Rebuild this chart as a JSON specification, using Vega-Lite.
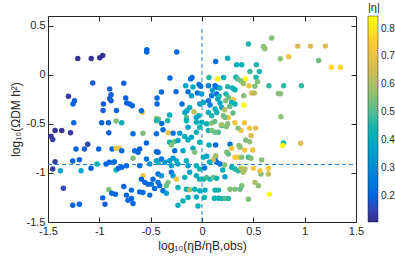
{
"$schema":"https://vega.github.io/schema/vega-lite/v6.json",
"width":308,"height":206,
"autosize":{"type":"none"},
"padding":{"left":48,"top":16,"right":39,"bottom":39},
"config":{"view":{"stroke":"#262626","strokeWidth":1},"font":"Liberation Sans",
"axis":{"grid":false,"domain":false,"tickColor":"#262626","labelColor":"#262626","titleColor":"#262626","labelFontSize":11,"titleFontSize":12,"titleFontWeight":"normal","tickSize":-5,"labelFlush":false,"labelOverlap":false},
"legend":{"labelColor":"#262626","titleColor":"#262626"}},
"datasets":{
"vline":[{"x":0,"y":-1.5,"y2":0.5}],
"hline":[{"y":-0.914,"x":-1.5,"x2":1.5}],
"pts":[
{"lx":-1.21,"ly":0.167,"eta":0.12},{"lx":-1.079,"ly":0.167,"eta":0.12},{"lx":-0.996,"ly":0.174,"eta":0.12},{"lx":-0.967,"ly":0.198,"eta":0.12},
{"lx":-1.064,"ly":-0.084,"eta":0.19},{"lx":-0.899,"ly":-0.143,"eta":0.19},{"lx":-0.886,"ly":-0.202,"eta":0.19},{"lx":-0.899,"ly":-0.24,"eta":0.19},{"lx":-0.886,"ly":-0.263,"eta":0.18},
{"lx":-1.301,"ly":-0.219,"eta":0.13},{"lx":-1.242,"ly":-0.263,"eta":0.19},{"lx":-1.256,"ly":-0.297,"eta":0.2},{"lx":-0.96,"ly":-0.297,"eta":0.19},{"lx":-0.964,"ly":-0.363,"eta":0.19},
{"lx":-0.833,"ly":-0.363,"eta":0.2},{"lx":-0.762,"ly":-0.086,"eta":0.2},{"lx":-0.743,"ly":-0.236,"eta":0.2},{"lx":-0.733,"ly":-0.287,"eta":0.2},{"lx":-0.704,"ly":-0.297,"eta":0.2},{"lx":-0.678,"ly":-0.315,"eta":0.21},
{"lx":-0.538,"ly":0.256,"eta":0.21},{"lx":-0.538,"ly":0.232,"eta":0.21},{"lx":-0.246,"ly":0.232,"eta":0.21},{"lx":-0.312,"ly":-0.031,"eta":0.21},{"lx":-0.11,"ly":-0.041,"eta":0.22},{"lx":-0.097,"ly":-0.028,"eta":0.22},
{"lx":-0.159,"ly":-0.11,"eta":0.38},{"lx":-0.088,"ly":-0.123,"eta":0.42},{"lx":-0.029,"ly":-0.099,"eta":0.22},{"lx":-0.013,"ly":-0.117,"eta":0.23},{"lx":-0.395,"ly":-0.174,"eta":0.22},{"lx":-0.253,"ly":-0.171,"eta":0.23},
{"lx":-0.136,"ly":-0.171,"eta":0.24},{"lx":-0.103,"ly":-0.212,"eta":0.36},{"lx":-0.045,"ly":-0.184,"eta":0.24},{"lx":-0.438,"ly":-0.236,"eta":0.22},{"lx":-0.438,"ly":-0.297,"eta":0.22},{"lx":-0.195,"ly":-0.297,"eta":0.22},
{"lx":-0.12,"ly":-0.332,"eta":0.42},{"lx":-0.022,"ly":-0.297,"eta":0.35},{"lx":-0.582,"ly":-0.381,"eta":0.72},{"lx":-0.59,"ly":-0.366,"eta":0.22},{"lx":-0.168,"ly":-0.383,"eta":0.42},{"lx":-0.146,"ly":-0.366,"eta":0.36},
{"lx":-0.078,"ly":-0.376,"eta":0.62},{"lx":-0.032,"ly":-0.417,"eta":0.42},{"lx":-0.055,"ly":-0.434,"eta":0.38},{"lx":-0.444,"ly":-0.445,"eta":0.55},{"lx":-0.426,"ly":-0.453,"eta":0.52},{"lx":-0.315,"ly":-0.41,"eta":0.42},
{"lx":-0.152,"ly":-0.434,"eta":0.5},{"lx":-0.334,"ly":-0.468,"eta":0.45},
{"lx":0.679,"ly":0.375,"eta":0.55},{"lx":0.598,"ly":0.29,"eta":0.56},{"lx":0.613,"ly":0.266,"eta":0.57},{"lx":0.452,"ly":0.314,"eta":0.45},{"lx":0.25,"ly":0.17,"eta":0.42},{"lx":0.133,"ly":0.136,"eta":0.22},
{"lx":0.338,"ly":0.102,"eta":0.42},{"lx":0.387,"ly":0.102,"eta":0.43},{"lx":0.467,"ly":0.034,"eta":0.48},{"lx":0.559,"ly":0.034,"eta":0.45},{"lx":0.526,"ly":-0.025,"eta":0.45},{"lx":0.542,"ly":-0.069,"eta":0.55},
{"lx":0.652,"ly":-0.11,"eta":0.47},{"lx":0.744,"ly":-0.189,"eta":0.55},{"lx":0.153,"ly":-0.041,"eta":0.84},{"lx":0.426,"ly":-0.041,"eta":0.84},{"lx":0.406,"ly":-0.307,"eta":0.84},{"lx":0.068,"ly":-0.028,"eta":0.45},
{"lx":0.211,"ly":-0.028,"eta":0.42},{"lx":0.331,"ly":-0.025,"eta":0.43},{"lx":0.348,"ly":-0.041,"eta":0.5},{"lx":0.377,"ly":-0.061,"eta":0.55},{"lx":0.403,"ly":-0.089,"eta":0.58},{"lx":0.458,"ly":-0.11,"eta":0.72},
{"lx":0.484,"ly":-0.184,"eta":0.67},{"lx":0.51,"ly":-0.184,"eta":0.62},{"lx":0.516,"ly":-0.117,"eta":0.55},{"lx":0.25,"ly":-0.12,"eta":0.45},{"lx":0.296,"ly":-0.133,"eta":0.44},{"lx":0.321,"ly":-0.151,"eta":0.42},
{"lx":0.127,"ly":-0.11,"eta":0.22},{"lx":0.143,"ly":-0.127,"eta":0.22},{"lx":0.062,"ly":-0.11,"eta":0.25},{"lx":0.143,"ly":-0.195,"eta":0.22},{"lx":0.094,"ly":-0.212,"eta":0.24},{"lx":-0.003,"ly":-0.195,"eta":0.35},
{"lx":0.014,"ly":-0.281,"eta":0.38},{"lx":0.062,"ly":-0.263,"eta":0.25},{"lx":0.078,"ly":-0.307,"eta":0.25},{"lx":0.153,"ly":-0.246,"eta":0.42},{"lx":0.175,"ly":-0.287,"eta":0.38},{"lx":0.234,"ly":-0.195,"eta":0.45},
{"lx":0.257,"ly":-0.23,"eta":0.52},{"lx":0.306,"ly":-0.253,"eta":0.72},{"lx":0.321,"ly":-0.297,"eta":0.44},{"lx":0.289,"ly":-0.281,"eta":0.42},{"lx":0.231,"ly":-0.263,"eta":0.55},{"lx":0.127,"ly":-0.348,"eta":0.43},
{"lx":0.192,"ly":-0.332,"eta":0.38},{"lx":0.143,"ly":-0.383,"eta":0.42},{"lx":0.257,"ly":-0.434,"eta":0.72},{"lx":0.062,"ly":-0.383,"eta":0.42},{"lx":0.094,"ly":-0.417,"eta":0.45},{"lx":0.208,"ly":-0.417,"eta":0.55},
{"lx":0.224,"ly":-0.434,"eta":0.53},{"lx":0.406,"ly":-0.212,"eta":0.56},{"lx":0.53,"ly":0.102,"eta":0.45},{"lx":0.172,"ly":-0.133,"eta":0.42},{"lx":0.101,"ly":-0.158,"eta":0.35},{"lx":0.27,"ly":-0.322,"eta":0.52},
{"lx":0.166,"ly":-0.219,"eta":0.42},{"lx":0.221,"ly":-0.356,"eta":0.62},{"lx":0.302,"ly":-0.389,"eta":0.52},
{"lx":0.932,"ly":0.293,"eta":0.66},{"lx":1.056,"ly":0.293,"eta":0.66},{"lx":1.202,"ly":0.293,"eta":0.67},{"lx":0.844,"ly":0.184,"eta":0.72},{"lx":0.763,"ly":0.164,"eta":0.56},{"lx":1.136,"ly":0.147,"eta":0.53},
{"lx":1.26,"ly":0.078,"eta":0.77},{"lx":1.348,"ly":0.078,"eta":0.77},{"lx":0.796,"ly":-0.11,"eta":0.47},{"lx":0.968,"ly":-0.11,"eta":0.47},{"lx":0.763,"ly":-0.192,"eta":0.56},{"lx":0.769,"ly":-0.427,"eta":0.57},
{"lx":-1.249,"ly":-0.489,"eta":0.2},{"lx":-0.977,"ly":-0.489,"eta":0.2},{"lx":-0.911,"ly":-0.489,"eta":0.2},{"lx":-0.837,"ly":-0.471,"eta":0.55},{"lx":-0.782,"ly":-0.489,"eta":0.42},
{"lx":-1.431,"ly":-0.568,"eta":0.12},{"lx":-1.366,"ly":-0.568,"eta":0.12},{"lx":-1.281,"ly":-0.591,"eta":0.13},{"lx":-1.47,"ly":-0.625,"eta":0.13},{"lx":-1.454,"ly":-0.66,"eta":0.14},{"lx":-0.908,"ly":-0.591,"eta":0.2},
{"lx":-1.113,"ly":-0.707,"eta":0.15},{"lx":-1.145,"ly":-0.755,"eta":0.19},{"lx":-1.227,"ly":-0.755,"eta":0.2},{"lx":-1.006,"ly":-0.755,"eta":0.2},{"lx":-0.876,"ly":-0.755,"eta":0.2},{"lx":-0.837,"ly":-0.748,"eta":0.72},
{"lx":-0.804,"ly":-0.748,"eta":0.72},{"lx":-0.782,"ly":-0.773,"eta":0.21},{"lx":-1.259,"ly":-0.878,"eta":0.2},{"lx":-1.194,"ly":-0.865,"eta":0.2},{"lx":-1.431,"ly":-0.885,"eta":0.14},{"lx":-1.022,"ly":-0.909,"eta":0.43},
{"lx":-1.081,"ly":-0.953,"eta":0.2},{"lx":-0.935,"ly":-0.909,"eta":0.2},{"lx":-0.902,"ly":-0.891,"eta":0.21},{"lx":-0.853,"ly":-0.885,"eta":0.22},{"lx":-0.837,"ly":-0.97,"eta":0.42},{"lx":-0.814,"ly":-0.953,"eta":0.22},
{"lx":-0.782,"ly":-0.943,"eta":0.22},{"lx":-1.454,"ly":-0.96,"eta":0.14},{"lx":-1.379,"ly":-0.977,"eta":0.38},{"lx":-1.178,"ly":-0.977,"eta":0.37},{"lx":-1.35,"ly":-1.155,"eta":0.16},{"lx":-0.908,"ly":-1.168,"eta":0.55},
{"lx":-0.879,"ly":-1.206,"eta":0.22},{"lx":-0.843,"ly":-1.216,"eta":0.22},{"lx":-0.967,"ly":-1.254,"eta":0.2},{"lx":-0.762,"ly":-1.137,"eta":0.2},{"lx":-0.945,"ly":-1.319,"eta":0.19},{"lx":-1.259,"ly":-1.329,"eta":0.2},
{"lx":-1.194,"ly":-1.319,"eta":0.2},
{"lx":-0.672,"ly":-0.601,"eta":0.22},{"lx":-0.575,"ly":-0.596,"eta":0.55},{"lx":-0.444,"ly":-0.601,"eta":0.22},{"lx":-0.38,"ly":-0.56,"eta":0.22},{"lx":-0.331,"ly":-0.591,"eta":0.72},{"lx":-0.282,"ly":-0.594,"eta":0.24},
{"lx":-0.217,"ly":-0.594,"eta":0.34},{"lx":-0.168,"ly":-0.629,"eta":0.42},{"lx":-0.136,"ly":-0.663,"eta":0.4},{"lx":-0.441,"ly":-0.468,"eta":0.45},{"lx":-0.392,"ly":-0.496,"eta":0.22},{"lx":-0.152,"ly":-0.468,"eta":0.43},
{"lx":-0.055,"ly":-0.482,"eta":0.42},{"lx":-0.136,"ly":-0.533,"eta":0.36},{"lx":-0.022,"ly":-0.533,"eta":0.44},{"lx":-0.055,"ly":-0.584,"eta":0.42},{"lx":-0.103,"ly":-0.635,"eta":0.36},{"lx":-0.315,"ly":-0.686,"eta":0.42},
{"lx":-0.266,"ly":-0.68,"eta":0.52},{"lx":-0.234,"ly":-0.67,"eta":0.38},{"lx":-0.298,"ly":-0.714,"eta":0.55},{"lx":-0.541,"ly":-0.694,"eta":0.2},{"lx":-0.022,"ly":-0.686,"eta":0.42},{"lx":-0.655,"ly":-0.773,"eta":0.21},
{"lx":-0.623,"ly":-0.789,"eta":0.21},{"lx":-0.607,"ly":-0.755,"eta":0.2},{"lx":-0.444,"ly":-0.783,"eta":0.22},{"lx":-0.428,"ly":-0.789,"eta":0.21},{"lx":-0.266,"ly":-0.773,"eta":0.23},{"lx":-0.185,"ly":-0.773,"eta":0.37},
{"lx":-0.088,"ly":-0.748,"eta":0.42},{"lx":-0.071,"ly":-0.789,"eta":0.55},{"lx":-0.672,"ly":-0.85,"eta":0.55},{"lx":-0.541,"ly":-0.858,"eta":0.22},{"lx":-0.444,"ly":-0.875,"eta":0.36},{"lx":-0.428,"ly":-0.891,"eta":0.42},
{"lx":-0.395,"ly":-0.858,"eta":0.24},{"lx":-0.363,"ly":-0.891,"eta":0.35},{"lx":-0.315,"ly":-0.875,"eta":0.33},{"lx":-0.282,"ly":-0.85,"eta":0.35},{"lx":-0.249,"ly":-0.875,"eta":0.4},{"lx":-0.234,"ly":-0.909,"eta":0.38},
{"lx":-0.298,"ly":-0.926,"eta":0.36},{"lx":-0.736,"ly":-0.926,"eta":0.21},{"lx":-0.607,"ly":-0.926,"eta":0.21},{"lx":-0.509,"ly":-0.909,"eta":0.33},{"lx":-0.152,"ly":-0.875,"eta":0.42},{"lx":-0.136,"ly":-0.926,"eta":0.36},
{"lx":-0.055,"ly":-0.926,"eta":0.42},{"lx":-0.022,"ly":-0.96,"eta":0.43},{"lx":-0.575,"ly":-1.029,"eta":0.72},{"lx":-0.59,"ly":-1.063,"eta":0.2},{"lx":-0.558,"ly":-1.096,"eta":0.21},{"lx":-0.526,"ly":-1.114,"eta":0.2},
{"lx":-0.477,"ly":-1.063,"eta":0.22},{"lx":-0.428,"ly":-1.011,"eta":0.24},{"lx":-0.395,"ly":-1.029,"eta":0.33},{"lx":-0.298,"ly":-0.994,"eta":0.25},{"lx":-0.282,"ly":-1.029,"eta":0.35},{"lx":-0.249,"ly":-1.063,"eta":0.72},
{"lx":-0.168,"ly":-1.045,"eta":0.42},{"lx":-0.12,"ly":-0.994,"eta":0.37},{"lx":-0.055,"ly":-1.029,"eta":0.42},{"lx":-0.022,"ly":-1.063,"eta":0.43},{"lx":-0.331,"ly":-1.096,"eta":0.55},{"lx":-0.347,"ly":-1.131,"eta":0.52},
{"lx":-0.234,"ly":-1.148,"eta":0.43},{"lx":-0.152,"ly":-1.165,"eta":0.43},{"lx":-0.12,"ly":-1.172,"eta":0.6},{"lx":-0.071,"ly":-1.165,"eta":0.44},{"lx":-0.022,"ly":-1.182,"eta":0.42},{"lx":-0.428,"ly":-1.096,"eta":0.22},
{"lx":-0.412,"ly":-1.131,"eta":0.21},{"lx":-0.493,"ly":-1.114,"eta":0.23},{"lx":-0.607,"ly":-1.193,"eta":0.21},{"lx":-0.575,"ly":-1.199,"eta":0.21},{"lx":-0.38,"ly":-1.182,"eta":0.22},{"lx":-0.347,"ly":-1.206,"eta":0.36},
{"lx":-0.687,"ly":-1.175,"eta":0.21},{"lx":-0.736,"ly":-1.226,"eta":0.21},{"lx":-0.687,"ly":-1.26,"eta":0.21},{"lx":-0.672,"ly":-1.311,"eta":0.2},{"lx":-0.721,"ly":-1.278,"eta":0.21},{"lx":-0.185,"ly":-1.285,"eta":0.43},
{"lx":-0.136,"ly":-1.25,"eta":0.42},{"lx":-0.055,"ly":-1.244,"eta":0.42},{"lx":-0.039,"ly":-1.336,"eta":0.43},{"lx":-0.234,"ly":-1.329,"eta":0.4},{"lx":-0.509,"ly":-1.226,"eta":0.22},{"lx":-0.461,"ly":-1.158,"eta":0.22},
{"lx":0.321,"ly":-0.489,"eta":0.72},{"lx":0.413,"ly":-0.489,"eta":0.72},{"lx":0.25,"ly":-0.499,"eta":0.55},{"lx":0.477,"ly":-0.619,"eta":0.66},{"lx":0.38,"ly":-0.568,"eta":0.72},{"lx":-0.003,"ly":-0.482,"eta":0.42},
{"lx":0.046,"ly":-0.499,"eta":0.42},{"lx":0.062,"ly":-0.568,"eta":0.42},{"lx":0.094,"ly":-0.568,"eta":0.55},{"lx":0.127,"ly":-0.584,"eta":0.52},{"lx":0.16,"ly":-0.584,"eta":0.5},{"lx":0.192,"ly":-0.516,"eta":0.43},
{"lx":0.092,"ly":-0.492,"eta":0.55},{"lx":0.124,"ly":-0.475,"eta":0.52},{"lx":0.189,"ly":-0.509,"eta":0.6},{"lx":0.238,"ly":-0.527,"eta":0.55},{"lx":0.351,"ly":-0.543,"eta":0.55},{"lx":0.464,"ly":-0.543,"eta":0.72},
{"lx":0.523,"ly":-0.543,"eta":0.68},{"lx":0.068,"ly":-0.714,"eta":0.42},{"lx":0.133,"ly":-0.714,"eta":0.22},{"lx":0.273,"ly":-0.707,"eta":0.24},{"lx":0.36,"ly":-0.721,"eta":0.55},{"lx":0.37,"ly":-0.738,"eta":0.56},
{"lx":0.289,"ly":-0.748,"eta":0.72},{"lx":0.241,"ly":-0.789,"eta":0.55},{"lx":0.257,"ly":-0.806,"eta":0.52},{"lx":0.014,"ly":-0.84,"eta":0.42},{"lx":0.046,"ly":-0.83,"eta":0.37},{"lx":0.127,"ly":-0.858,"eta":0.22},
{"lx":0.143,"ly":-0.891,"eta":0.23},{"lx":0.175,"ly":-0.909,"eta":0.24},{"lx":0.133,"ly":-0.824,"eta":0.6},{"lx":0.109,"ly":-0.868,"eta":0.65},{"lx":0.321,"ly":-0.84,"eta":0.72},{"lx":0.354,"ly":-0.84,"eta":0.72},
{"lx":0.387,"ly":-0.84,"eta":0.55},{"lx":0.452,"ly":-0.84,"eta":0.47},{"lx":0.477,"ly":-0.85,"eta":0.55},{"lx":0.289,"ly":-0.943,"eta":0.44},{"lx":0.321,"ly":-0.96,"eta":0.45},{"lx":0.354,"ly":-0.977,"eta":0.46},
{"lx":0.38,"ly":-0.953,"eta":0.62},{"lx":0.419,"ly":-0.96,"eta":0.62},{"lx":0.403,"ly":-0.994,"eta":0.6},{"lx":0.5,"ly":-0.953,"eta":0.72},{"lx":0.647,"ly":-0.953,"eta":0.73},{"lx":0.647,"ly":-1.011,"eta":0.63},
{"lx":0.574,"ly":-1.011,"eta":0.55},{"lx":0.565,"ly":-0.977,"eta":0.72},{"lx":0.516,"ly":-1.096,"eta":0.6},{"lx":0.549,"ly":-1.131,"eta":0.56},{"lx":0.656,"ly":-1.216,"eta":0.84},{"lx":0.387,"ly":-1.131,"eta":0.55},
{"lx":0.273,"ly":-1.165,"eta":0.55},{"lx":0.321,"ly":-1.165,"eta":0.55},{"lx":0.37,"ly":-1.165,"eta":0.52},{"lx":0.127,"ly":-1.175,"eta":0.43},{"lx":0.16,"ly":-1.175,"eta":0.43},{"lx":0.029,"ly":-1.175,"eta":0.42},
{"lx":0.121,"ly":-1.257,"eta":0.43},{"lx":0.16,"ly":-1.257,"eta":0.43},{"lx":0.192,"ly":-1.26,"eta":0.44},{"lx":0.224,"ly":-1.26,"eta":0.5},{"lx":0.257,"ly":-1.26,"eta":0.46},{"lx":0.452,"ly":-1.267,"eta":0.55},
{"lx":0.023,"ly":-1.25,"eta":0.44},{"lx":0.014,"ly":-1.063,"eta":0.44},{"lx":0.046,"ly":-1.045,"eta":0.5},{"lx":0.078,"ly":-1.063,"eta":0.45},{"lx":0.111,"ly":-1.045,"eta":0.52},{"lx":0.143,"ly":-1.055,"eta":0.44},
{"lx":0.224,"ly":-1.039,"eta":0.37},{"lx":0.026,"ly":-0.95,"eta":0.24},{"lx":0.075,"ly":-0.888,"eta":0.42},{"lx":0.202,"ly":-0.97,"eta":0.42},{"lx":0.221,"ly":-0.919,"eta":0.55},{"lx":0.426,"ly":-0.663,"eta":0.55},
{"lx":0.464,"ly":-0.683,"eta":0.56},{"lx":0.416,"ly":-0.765,"eta":0.72},{"lx":0.494,"ly":-0.765,"eta":0.72},{"lx":0.581,"ly":-0.868,"eta":0.55},
{"lx":0.793,"ly":-0.694,"eta":0.45},{"lx":0.786,"ly":-0.721,"eta":0.84},{"lx":0.961,"ly":-0.697,"eta":0.68}
]},
"layer":[
{"data":{"name":"vline"},"mark":{"type":"rule","strokeDash":[4,3],"color":"#1f80d8","strokeWidth":1},
"encoding":{
"x":{"field":"x","type":"quantitative","scale":{"domain":[-1.5,1.5],"nice":false,"zero":false},"axis":{"orient":"top","labels":false,"title":null,"values":[-1.5,-1,-0.5,0,0.5,1,1.5]}},
"y":{"field":"y","type":"quantitative","scale":{"domain":[-1.5,0.6],"nice":false,"zero":false},"axis":{"orient":"right","labels":false,"title":null,"values":[-1.5,-1,-0.5,0,0.5]}},
"y2":{"field":"y2"}}},
{"data":{"name":"hline"},"mark":{"type":"rule","strokeDash":[4,3],"color":"#1f80d8","strokeWidth":1},
"encoding":{"y":{"field":"y","type":"quantitative","axis":null},"x":{"field":"x","type":"quantitative","axis":null},"x2":{"field":"x2"}}},
{"data":{"name":"pts"},"mark":{"type":"circle","size":30,"opacity":1},
"encoding":{
"x":{"field":"lx","type":"quantitative","axis":{"orient":"bottom","values":[-1.5,-1,-0.5,0,0.5,1,1.5],"labelPadding":8,"title":"log₁₀(ηB/ηB,obs)","titlePadding":4,"labelExpr":"datum.value < 0 ? '-' + format(-datum.value,'~g') : format(datum.value,'~g')"}},
"y":{"field":"ly","type":"quantitative","axis":{"orient":"left","values":[-1.5,-1,-0.5,0,0.5],"labelPadding":8,"title":"log₁₀(ΩDM h²)","titlePadding":4,"labelExpr":"datum.value < 0 ? '-' + format(-datum.value,'~g') : format(datum.value,'~g')"}},
"color":{"field":"eta","type":"quantitative","scale":{"domain":[0.105,0.1975,0.29,0.3825,0.475,0.5675,0.66,0.7525,0.845],"range":["#352a87","#0363e1","#1485d4","#06a7c6","#38b99e","#92bf73","#d9ba56","#fcce2e","#f9fb0e"]},
"legend":{"title":"|η|","orient":"none","legendX":320,"legendY":-14,"direction":"vertical","gradientLength":206,"gradientThickness":10,"values":[0.2,0.3,0.4,0.5,0.6,0.7,0.8],"labelFontSize":10,"titleFontSize":11,"titleFontWeight":"normal","titlePadding":3,"labelOffset":3,"gradientStrokeColor":"#262626","gradientStrokeWidth":0.5}}}}
],
"resolve":{"axis":{"x":"independent","y":"independent"}}
}
